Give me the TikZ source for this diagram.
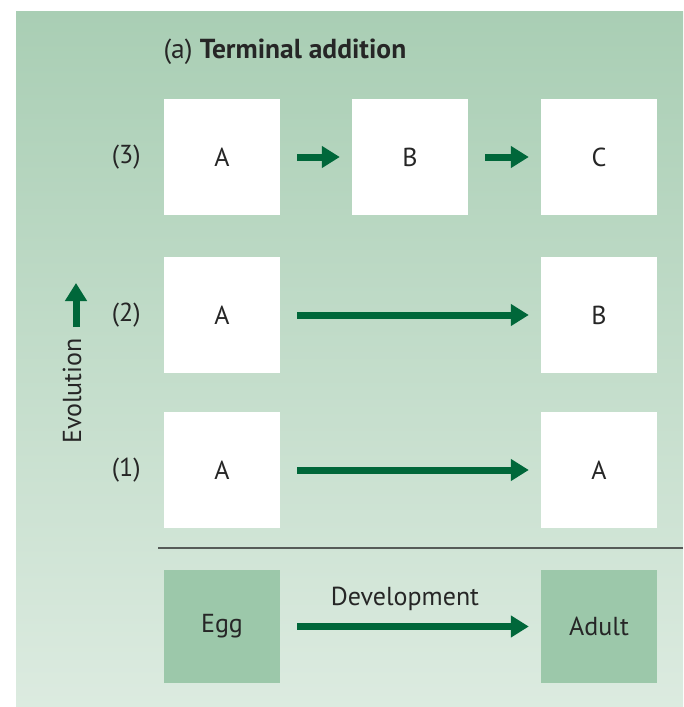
\documentclass[tikz,border=0pt]{standalone}
\usepackage{fontspec}
\setmainfont{PT Sans}
\usetikzlibrary{arrows.meta,positioning}

\definecolor{ArrowGreen}{HTML}{00673A}
\definecolor{PanelTop}{HTML}{A9CEB4}
\definecolor{PanelBottom}{HTML}{DCEBE0}
\definecolor{StageGreen}{HTML}{9CC8AA}
\definecolor{RuleGrey}{HTML}{565B58}

\begin{document}
\begin{tikzpicture}[x=1pt,y=-1pt]
\useasboundingbox[fill=white] (0,0) rectangle (683,707);
\shade[top color=PanelTop, bottom color=PanelBottom] (16,11) rectangle (683,707);

\coordinate (C3_1) at (222, 157);
\coordinate (C3_2) at (410, 157);
\coordinate (C3_3) at (599, 157);
\coordinate (C2_1) at (222, 315);
\coordinate (C2_3) at (599, 315);
\coordinate (C1_1) at (222, 470);
\coordinate (C1_3) at (599, 470);
\coordinate (C0_1) at (222, 626.5);
\coordinate (C0_3) at (599, 626.5);
\coordinate (EvoFoot) at (76, 327);
\coordinate (EvoTip) at (76, 283);


\tikzset{TextStyle/.style = {text = black!85, font = \fontsize{26}{30}\selectfont} }

\node[TextStyle, font=\fontsize{27.5}{32}\selectfont, anchor=west] (Title) at (160, 52) {(a) \textbf{Terminal addition}};


\tikzset{BoxStyle/.style = {
 TextStyle,
 fill = white,
 inner sep = 0pt,
 minimum width = 116pt,
 minimum height = 116pt} }
\tikzset{StageStyle/.style = {BoxStyle, fill = StageGreen, minimum height = 113pt} }

\node[BoxStyle] (S3A) at (C3_1) {A};
\node[BoxStyle] (S3B) at (C3_2) {B};
\node[BoxStyle] (S3C) at (C3_3) {C};
\node[BoxStyle] (S2A) at (C2_1) {A};
\node[BoxStyle] (S2B) at (C2_3) {B};
\node[BoxStyle] (S1A) at (C1_1) {A};
\node[BoxStyle] (S1B) at (C1_3) {A};
\node[StageStyle] (Egg) at (C0_1) {Egg};
\node[StageStyle] (Adult) at (C0_3) {Adult};

\node[TextStyle, inner sep=0pt, left=23pt of S3A] (L3) {(3)};
\node[TextStyle, inner sep=0pt, left=23pt of S2A] (L2) {(2)};
\node[TextStyle, inner sep=0pt, left=23pt of S1A] (L1) {(1)};
\node[TextStyle, rotate=90] (Evo) at (72, 391) {Evolution};
\node[TextStyle] (Dev) at (405, 599) {Development};


\tikzset{ArrowStyle/.style = {
 draw = ArrowGreen,
 line width = 7pt,
 -{Triangle[length=18pt, width=21pt]},
 shorten <= 17pt,
 shorten >= 12pt} }

\draw[ArrowStyle] (S3A) -- (S3B);
\draw[ArrowStyle] (S3B) -- (S3C);
\draw[ArrowStyle] (S2A) -- (S2B);
\draw[ArrowStyle] (S1A) -- (S1B);
\draw[ArrowStyle] (Egg) -- (Adult);
\draw[ArrowStyle, shorten <= 0pt, shorten >= 0pt] (EvoFoot) -- (EvoTip);

\draw[RuleGrey, line width=2pt] (158, 548) -- (683, 548);

\end{tikzpicture}
\end{document}
